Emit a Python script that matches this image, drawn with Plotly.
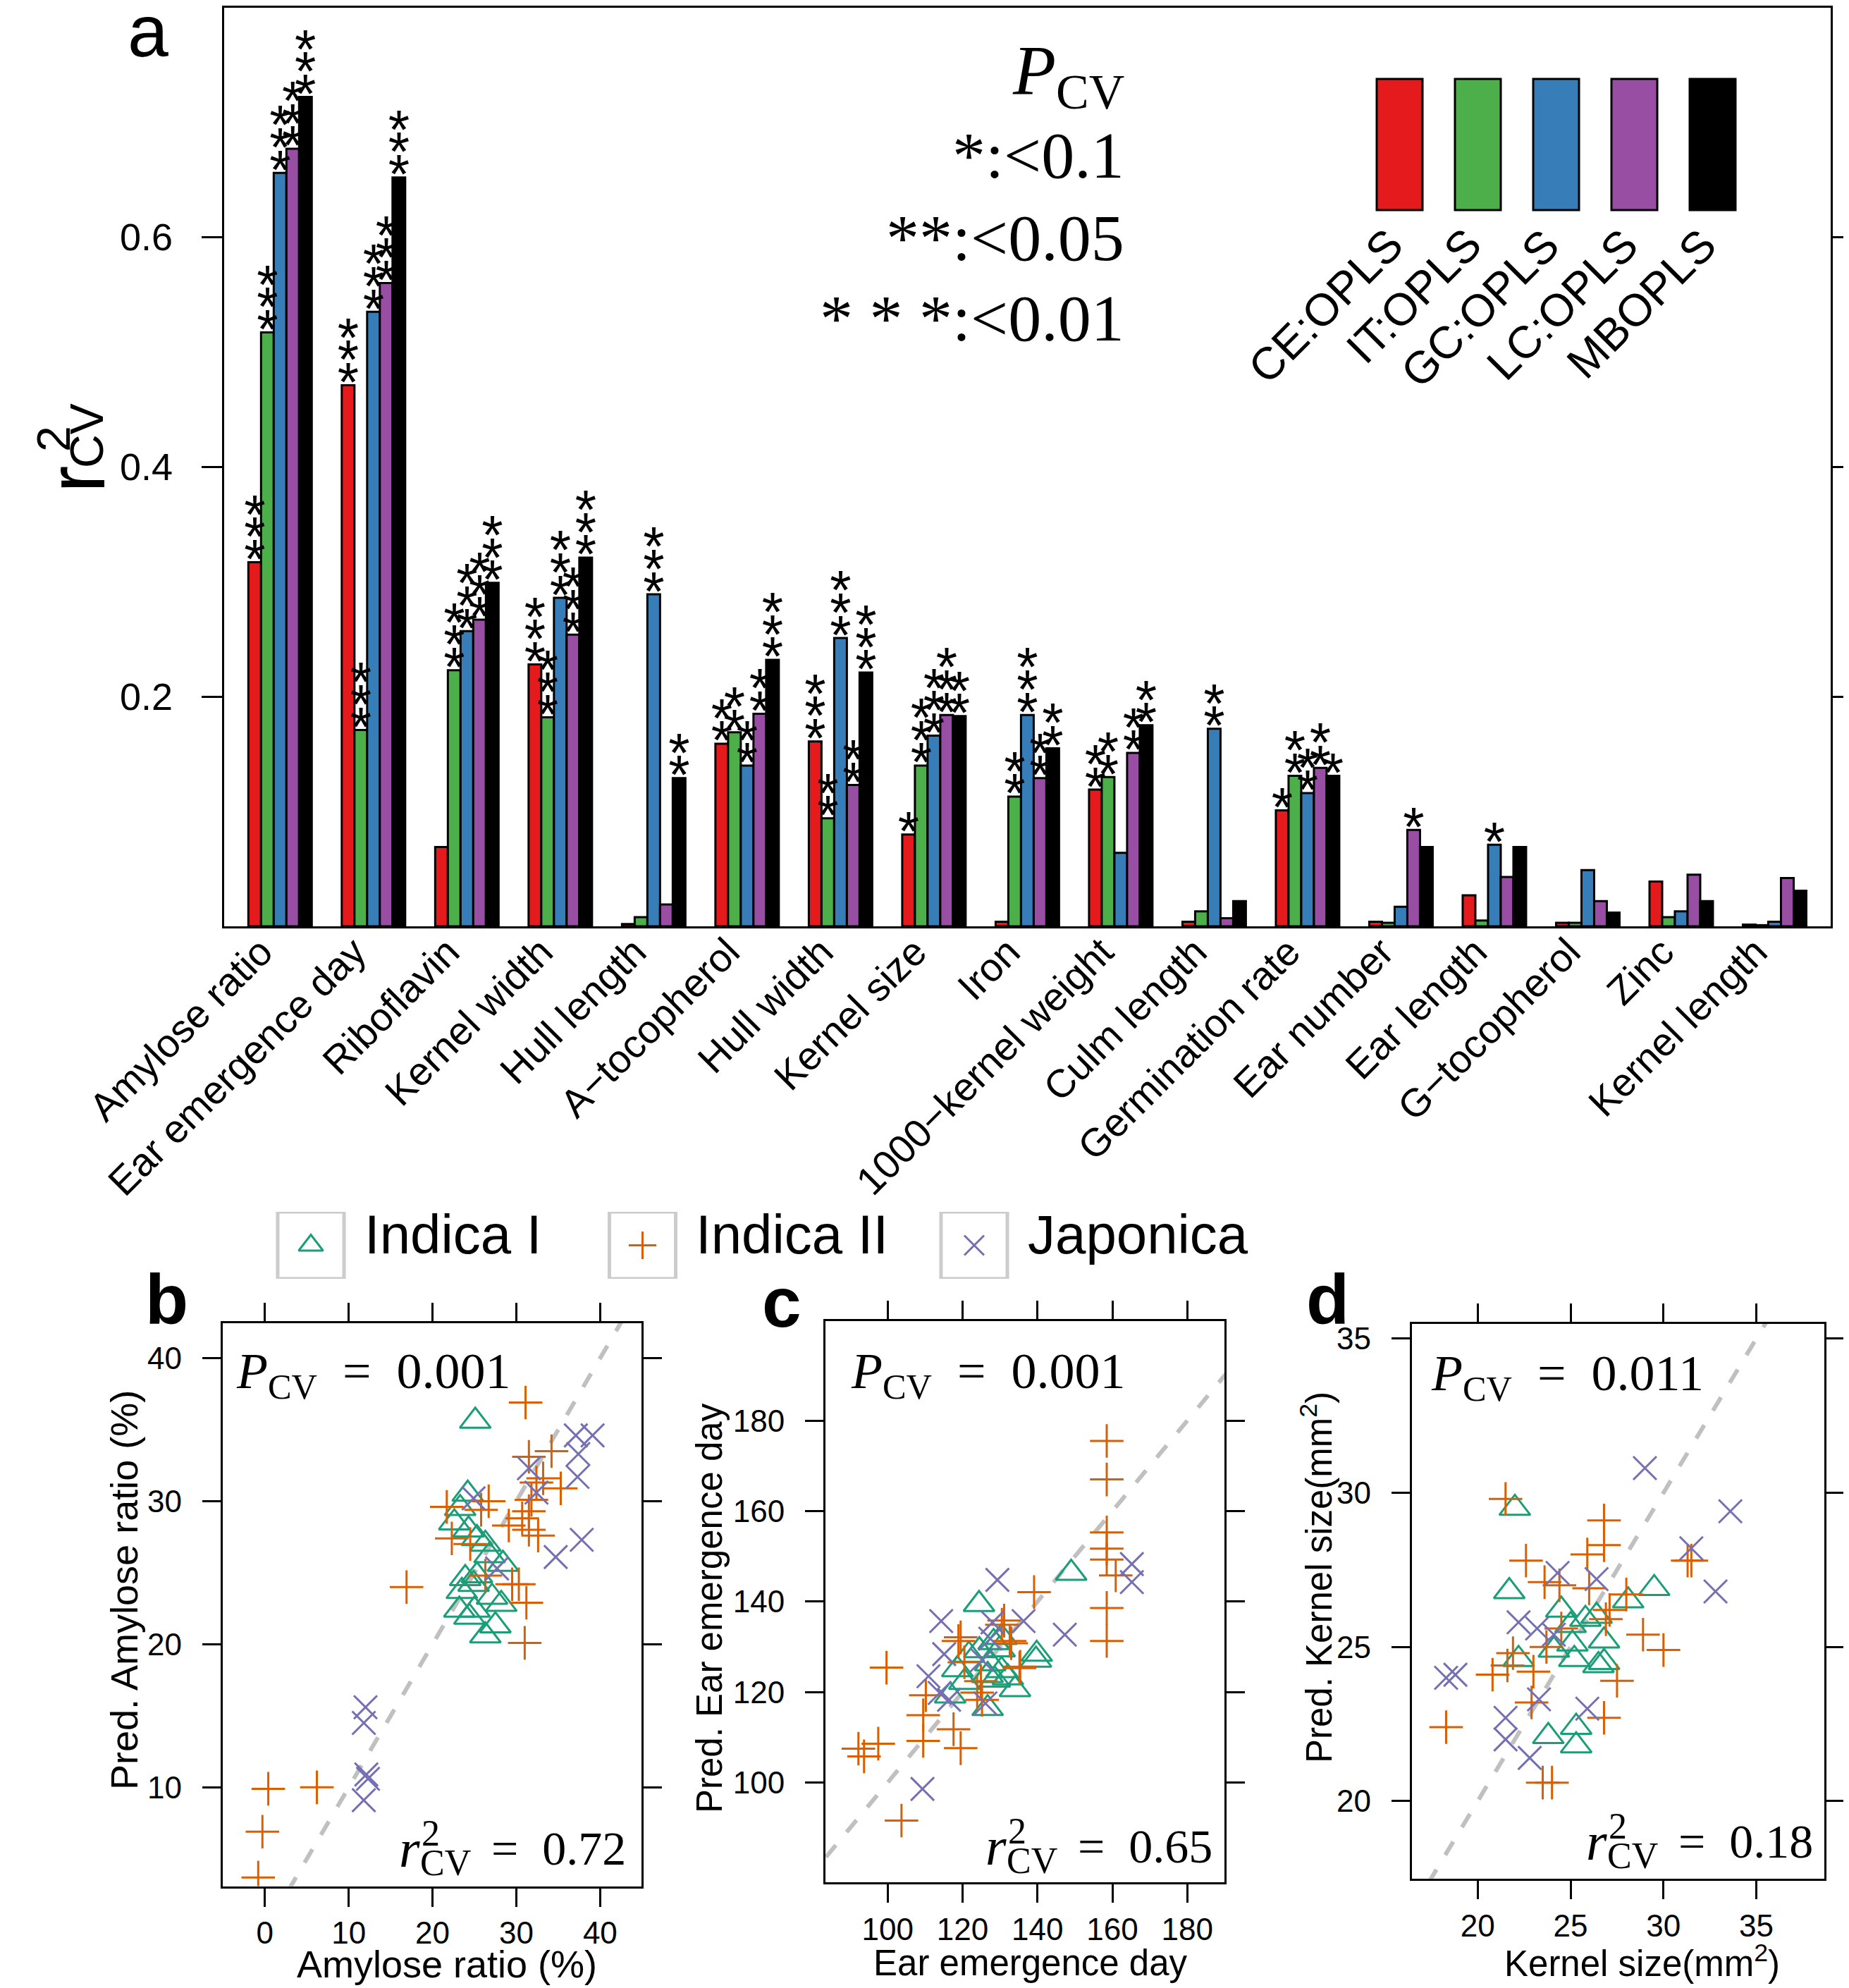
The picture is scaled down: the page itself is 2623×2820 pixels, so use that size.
import plotly.graph_objects as go

W, H = 2623, 2820

# ---------------- panel a data ----------------
categories = ["Amylose ratio", "Ear emergence day", "Riboflavin", "Kernel width", "Hull length",
              "A\u2212tocopherol", "Hull width", "Kernel size", "Iron", "1000\u2212kernel weight",
              "Culm length", "Germination rate", "Ear number", "Ear length", "G\u2212tocopherol",
              "Zinc", "Kernel length"]
series_names = ["CE:OPLS", "IT:OPLS", "GC:OPLS", "LC:OPLS", "MBOPLS"]
series_colors = ["#E41A1C", "#4DAF4A", "#377EB8", "#984EA3", "#000000"]

ce_opls = [0.317, 0.471, 0.069, 0.228, 0.002, 0.159, 0.161, 0.080, 0.004, 0.119, 0.004, 0.101, 0.004, 0.027, 0.003, 0.039, 0.0015]
it_opls = [0.517, 0.171, 0.223, 0.182, 0.008, 0.169, 0.094, 0.140, 0.113, 0.130, 0.013, 0.131, 0.003, 0.005, 0.003, 0.008, 0.001]
gc_opls = [0.656, 0.535, 0.257, 0.286, 0.289, 0.140, 0.251, 0.166, 0.184, 0.064, 0.172, 0.116, 0.017, 0.071, 0.049, 0.013, 0.004]
lc_opls = [0.677, 0.560, 0.267, 0.254, 0.019, 0.185, 0.123, 0.184, 0.129, 0.151, 0.007, 0.138, 0.084, 0.043, 0.022, 0.045, 0.042]
mbopls = [0.722, 0.652, 0.299, 0.321, 0.129, 0.232, 0.221, 0.183, 0.155, 0.175, 0.022, 0.131, 0.069, 0.069, 0.012, 0.022, 0.031]

ce_stars = [3, 3, 0, 3, 0, 2, 3, 1, 0, 2, 0, 1, 0, 0, 0, 0, 0]
it_stars = [3, 3, 3, 3, 0, 2, 2, 3, 2, 2, 0, 2, 0, 0, 0, 0, 0]
gc_stars = [3, 3, 3, 3, 3, 2, 3, 3, 3, 0, 2, 2, 0, 1, 0, 0, 0]
lc_stars = [3, 3, 3, 3, 0, 2, 2, 3, 2, 2, 0, 2, 1, 0, 0, 0, 0]
mb_stars = [3, 3, 3, 3, 2, 3, 3, 2, 2, 2, 0, 1, 0, 0, 0, 0, 0]

pcv_legend = ["*:&lt;0.1", "**:&lt;0.05", "* * *:&lt;0.01"]

# ---------------- scatter data ----------------
group_names = ["Indica I", "Indica II", "Japonica"]
group_colors = ["#1B9E77", "#D95F02", "#7570B3"]

# b: Amylose ratio
b_ind1_x = [25.1, 24.2, 23.3, 22.6, 24.3, 25.3, 26.3, 26.8, 28.4, 23.9, 25.3, 23.5, 24.9, 27.1, 28.2, 23.2, 24.4, 25.0, 27.5, 26.3]
b_ind1_y = [35.6, 30.5, 29.5, 28.5, 28.0, 27.4, 27.0, 26.2, 25.6, 24.6, 24.8, 23.7, 24.2, 23.3, 22.8, 22.4, 21.9, 22.4, 21.3, 20.6]
b_ind2_x = [31.1, 31.5, 34.2, 32.4, 33.2, 35.3, 31.8, 31.5, 30.7, 29.1, 31.5, 32.6, 26.7, 25.8, 21.7, 22.3, 24.5, 26.3, 29.5, 30.3, 31.2, 31.0, 16.9, 0.4, 6.2, -0.3, -0.8]
b_ind2_y = [36.9, 33.1, 33.5, 31.3, 31.6, 30.9, 30.1, 29.3, 28.8, 28.3, 28.0, 27.6, 30.0, 29.4, 29.6, 27.4, 27.0, 24.8, 24.2, 24.2, 22.9, 20.1, 24.0, 9.9, 10.0, 6.9, 3.7]
b_jap_x = [37.1, 39.1, 37.4, 37.3, 31.5, 32.4, 24.9, 34.7, 37.8, 27.7, 12.0, 11.8, 12.1, 12.3, 11.8]
b_jap_y = [34.6, 34.6, 33.3, 31.7, 32.3, 30.6, 30.2, 26.1, 27.3, 25.3, 15.6, 14.5, 10.9, 10.6, 9.1]

# c: Ear emergence day
c_ind1_x = [124.4, 149.0, 139.6, 116.7, 126.7, 134.0, 118.6, 121.7, 124.5, 128.3, 130.4, 127.4, 130.4, 128.6, 132.1, 120.5, 126.7, 129.9, 139.8]
c_ind1_y = [139.4, 146.3, 127.1, 119.2, 116.4, 120.6, 125.0, 128.2, 129.2, 131.0, 132.1, 126.3, 124.8, 122.7, 123.2, 122.2, 123.7, 129.4, 128.4]
c_ind2_x = [158.5, 158.5, 158.5, 158.5, 158.5, 160.9, 158.5, 158.5, 139.1, 99.7, 92.2, 93.7, 97.5, 103.7, 110.2, 109.5, 109.5, 117.6, 119.5, 118.9, 123.9, 132.6, 135.4, 131.1, 130.5, 133.0, 119.5, 124.9, 125.2, 135.2, 120.5]
c_ind2_y = [175.5, 167.0, 155.3, 151.7, 149.3, 145.8, 138.6, 131.3, 142.1, 125.4, 107.5, 105.8, 108.6, 91.6, 119.3, 114.9, 109.2, 111.8, 107.6, 131.3, 119.9, 131.3, 125.6, 135.8, 134.9, 130.8, 132.1, 122.4, 118.3, 125.3, 126.6]
c_jap_x = [129.3, 114.3, 136.3, 147.3, 115.1, 128.0, 127.4, 125.2, 110.9, 113.9, 116.4, 126.1, 109.3, 165.2, 165.2]
c_jap_y = [144.8, 135.7, 135.7, 132.7, 128.4, 135.4, 131.8, 127.1, 123.5, 119.8, 118.3, 117.5, 98.6, 148.3, 144.3]

# d: Kernel size
d_ind1_x = [21.7, 29.5, 28.1, 24.5, 26.4, 25.8, 25.0, 26.8, 24.1, 25.1, 22.2, 25.2, 26.8, 26.5, 23.8, 25.3, 25.3, 22.0]
d_ind1_y = [26.8, 26.9, 26.5, 26.2, 26.0, 25.9, 25.7, 25.2, 24.9, 25.1, 24.6, 24.6, 24.5, 24.4, 22.1, 22.4, 21.8, 29.5]
d_ind2_x = [26.8, 26.8, 25.9, 22.6, 23.6, 24.4, 26.0, 31.3, 31.5, 28.0, 27.1, 26.9, 28.9, 30.0, 24.5, 23.7, 23.0, 21.9, 20.8, 21.6, 22.9, 27.5, 26.8, 23.5, 24.0, 18.3, 21.5]
d_ind2_y = [29.1, 28.3, 28.0, 27.8, 27.1, 27.0, 26.9, 27.8, 27.8, 26.7, 26.2, 25.9, 25.4, 24.9, 25.6, 25.0, 24.2, 24.8, 24.1, 24.4, 23.2, 23.9, 22.7, 20.6, 20.6, 22.4, 29.8]
d_jap_x = [29.0, 33.6, 31.5, 32.8, 18.3, 18.8, 25.9, 21.5, 21.5, 22.8, 23.3, 22.2, 24.3, 26.4, 23.2, 24.1]
d_jap_y = [30.8, 29.4, 28.2, 26.8, 24.0, 24.1, 23.0, 22.7, 22.0, 21.4, 23.3, 25.8, 27.4, 27.2, 25.6, 25.4]

b_pcv, b_r2 = "0.001", "0.72"
c_pcv, c_r2 = "0.001", "0.65"
d_pcv, d_r2 = "0.011", "0.18"

b_xticks, b_yticks = [0, 10, 20, 30, 40], [10, 20, 30, 40]
c_xticks, c_yticks = [100, 120, 140, 160, 180], [100, 120, 140, 160, 180]
d_xticks, d_yticks = [20, 25, 30, 35], [20, 25, 30, 35]

# ---------------- helpers ----------------
def px(x):
    return x / W

def py(y):
    return 1 - y / H

SANS = "Liberation Sans"
SERIF = "Liberation Serif"

fig = go.Figure()

# ---------------- panel a: bars ----------------
BW = 0.1358
all_vals = [ce_opls, it_opls, gc_opls, lc_opls, mbopls]
all_stars = [ce_stars, it_stars, gc_stars, lc_stars, mb_stars]
A_TOP, A_BOT = 2.5, 1306.0
A_YMAX = 0.8
PX_PER_UNIT = (A_BOT - A_TOP) / A_YMAX
STAR_D0, STAR_SP = -3.0, 31.7

for j, (name, col, vals) in enumerate(zip(series_names, series_colors, all_vals)):
    xs = [i + (j - 2) * BW for i in range(len(categories))]
    fig.add_trace(go.Bar(x=xs, y=vals, width=BW, name=name,
                         marker=dict(color=col, line=dict(color="black", width=3)),
                         showlegend=False, xaxis="x", yaxis="y"))

sx, sy = [], []
for j, (vals, stars) in enumerate(zip(all_vals, all_stars)):
    for i, (v, n) in enumerate(zip(vals, stars)):
        for k in range(n):
            sx.append(i + (j - 2) * BW)
            sy.append(v + (STAR_D0 + k * STAR_SP) / PX_PER_UNIT)
fig.add_trace(go.Scatter(x=sx, y=sy, mode="text", text=["*"] * len(sx),
                         textposition="middle center",
                         textfont=dict(family=SANS, size=78, color="black"),
                         cliponaxis=False, showlegend=False, xaxis="x", yaxis="y"))

# ---------------- scatter panels ----------------
symbols = ["triangle-up-open", "cross-thin-open", "x-thin-open"]
sizes = [38, 34, 33]

panels = [
    dict(ax="2", data=[(b_ind1_x, b_ind1_y), (b_ind2_x, b_ind2_y), (b_jap_x, b_jap_y)],
         xr=[-5.05, 44.9], yr=[3.09, 42.44], xt=b_xticks, yt=b_yticks,
         dom_x=[307.8, 901.6], dom_y=[1869.0, 2667.6]),
    dict(ax="3", data=[(c_ind1_x, c_ind1_y), (c_ind2_x, c_ind2_y), (c_jap_x, c_jap_y)],
         xr=[83.4, 190.0], yr=[78.0, 202.0], xt=c_xticks, yt=c_yticks,
         dom_x=[1163.0, 1729.4], dom_y=[1866.0, 2661.8]),
    dict(ax="4", data=[(d_ind1_x, d_ind1_y), (d_ind2_x, d_ind2_y), (d_jap_x, d_jap_y)],
         xr=[16.45, 38.64], yr=[17.49, 35.48], xt=d_xticks, yt=d_yticks,
         dom_x=[1994.7, 2579.5], dom_y=[1869.8, 2656.7]),
]

layout_axes = {}
for p in panels:
    a = p["ax"]
    lo = min(p["xr"][0], p["yr"][0])
    hi = max(p["xr"][1], p["yr"][1])
    fig.add_trace(go.Scatter(x=[lo, hi], y=[lo, hi], mode="lines",
                             line=dict(color="#C0C0C0", width=6, dash="22px,24px"),
                             showlegend=False, xaxis="x" + a, yaxis="y" + a, hoverinfo="skip"))
    for g, (xs, ys) in enumerate(p["data"]):
        fig.add_trace(go.Scatter(x=xs, y=ys, mode="markers", name=group_names[g],
                                 marker=dict(symbol=symbols[g], size=sizes[g], color=group_colors[g],
                                             line=dict(color=group_colors[g], width=3)),
                                 showlegend=False, xaxis="x" + a, yaxis="y" + a))
    common = dict(showline=True, linecolor="black", linewidth=3, mirror="ticks",
                  ticks="outside", ticklen=26, tickwidth=3, tickcolor="black",
                  showgrid=False, zeroline=False, automargin=False,
                  tickfont=dict(family=SANS, size=44, color="black"))
    layout_axes["xaxis" + a] = dict(domain=[px(p["dom_x"][0]), px(p["dom_x"][1])], range=p["xr"],
                                    tickvals=p["xt"], anchor="y" + a, ticklabelstandoff=0, **common)
    layout_axes["yaxis" + a] = dict(domain=[py(p["dom_y"][1]), py(p["dom_y"][0])], range=p["yr"],
                                    tickvals=p["yt"], anchor="x" + a, ticklabelstandoff=20, **common)

# legend strip for groups
KEY_X0, KEY_STEP = 433.0, 470.5
for g in range(3):
    fig.add_trace(go.Scatter(x=[g], y=[0.5], mode="markers",
                             marker=dict(symbol=symbols[g], size=[30, 28, 28][g], color=group_colors[g],
                                         line=dict(color=group_colors[g], width=3)),
                             showlegend=False, xaxis="x5", yaxis="y5", hoverinfo="skip"))
layout_axes["xaxis5"] = dict(domain=[px(KEY_X0 - 0.5 * KEY_STEP), px(KEY_X0 + 2.5 * KEY_STEP)],
                             range=[-0.5, 2.5], visible=False, anchor="y5")
layout_axes["yaxis5"] = dict(domain=[py(1806), py(1711)], range=[0, 1], visible=False, anchor="x5")

shapes = []
annotations = []

def note(x, y, text, size, family=SANS, xanchor="center", yanchor="middle", angle=0, **kw):
    d = dict(xref="paper", yref="paper", x=px(x), y=py(y), text=text, showarrow=False,
             xanchor=xanchor, yanchor=yanchor, textangle=angle,
             font=dict(family=family, size=size, color="black"))
    d.update(kw)
    annotations.append(d)

for g in range(3):
    shapes.append(dict(type="rect", xref="x5", yref="y5", x0=g - 0.1, x1=g + 0.1, y0=0, y1=1,
                       line=dict(color="#CCCCCC", width=5), fillcolor="rgba(0,0,0,0)"))
    annotations.append(dict(xref="x5", yref="y5", x=g + 0.157, y=0.5, text=group_names[g],
                            showarrow=False, xanchor="left", yanchor="middle", yshift=16,
                            font=dict(family=SANS, size=78, color="black")))

# panel a legend rectangles + labels
for k, (name, col) in enumerate(zip(series_names, series_colors)):
    x0 = 1945 + k * 111
    shapes.append(dict(type="rect", xref="paper", yref="paper", x0=px(x0), x1=px(x0 + 65),
                       y0=py(290), y1=py(104), fillcolor=col, line=dict(color="black", width=3)))
    note(x0 + 32 + 22, 300, name, 64, xanchor="right", yanchor="top", angle=-45)

# P_CV significance legend
note(1589, 99, "<i>P</i><sub>CV</sub>", 100, family=SERIF, xanchor="right")
for t, yy in zip(pcv_legend, [212, 329, 443]):
    note(1589, yy, t, 94, family=SERIF, xanchor="right")

# panel a y title  r^2_CV
note(100, 672, "r", 115, angle=-90)
note(68, 615, "2", 66, angle=-90)
note(115, 610, "CV", 66, angle=-90)

# panel letters
note(202, 36, "a", 104)
for t, (xx, yy) in zip(["b", "c", "d"], [(229, 1835), (1101, 1839), (1875, 1835)]):
    note(xx, yy, "<b>" + t + "</b>", 100)

# scatter titles
x_titles = ["Amylose ratio (%)", "Ear emergence day", "Kernel size(mm<sup>2</sup>)"]
y_titles = ["Pred. Amylose ratio (%)", "Pred. Ear emergence day", "Pred. Kernel size(mm<sup>2</sup>)"]
title_sizes = [54, 51, 51]
for t, s, (xx, yy) in zip(x_titles, title_sizes, [(626, 2778), (1454, 2776), (2321, 2774)]):
    note(xx, yy, t, s)
for t, s, (xx, yy) in zip(y_titles, title_sizes, [(168, 2247), (998, 2273), (1860, 2229)]):
    note(xx, yy, t, s, angle=-90)

# P_CV and r2 inside scatters
for pcv, r2, (pxl, pyc), (rr, ryc) in zip([b_pcv, c_pcv, d_pcv], [b_r2, c_r2, d_r2],
                                          [(325, 1942), (1197, 1942), (2020, 1945)],
                                          [(882, 2614), (1714, 2611), (2566, 2604)]):
    note(pxl, pyc, "<i>P</i><sub>CV</sub>  =  " + pcv, 72, family=SERIF, xanchor="left")
    note(rr, ryc, "=&nbsp;&nbsp;" + r2, 68, family=SERIF, xanchor="right")
    note(rr - 220, ryc + 20, "CV", 52, family=SERIF, xanchor="right")
    note(rr - 294, ryc - 22, "2", 52, family=SERIF, xanchor="left")
    note(rr - 292, ryc, "<i>r</i>", 76, family=SERIF, xanchor="right")

fig.update_layout(
    width=W, height=H,
    margin=dict(l=0, r=0, t=0, b=0),
    paper_bgcolor="white", plot_bgcolor="white",
    barmode="overlay",
    showlegend=False,
    xaxis=dict(domain=[px(309.8), px(2589.0)], range=[-0.6, 16.6], tickvals=list(range(len(categories))),
               ticktext=categories, tickangle=-45, ticks="", showline=True, linecolor="black",
               linewidth=3, mirror=True, showgrid=False, zeroline=False, automargin=False,
               ticklabelstandoff=-22, ticklabelshift=-27,
               tickfont=dict(family=SANS, size=56, color="black"), anchor="y"),
    yaxis=dict(domain=[py(A_BOT), py(A_TOP)], range=[0, A_YMAX], tickvals=[0.2, 0.4, 0.6],
               ticktext=["0.2", "0.4", "0.6"], ticks="outside", ticklen=29, tickwidth=3,
               tickcolor="black", showline=True, linecolor="black", linewidth=3, mirror="ticks",
               showgrid=False, zeroline=False, automargin=False, ticklabelstandoff=30,
               tickfont=dict(family=SANS, size=54, color="black"), anchor="x"),
    shapes=shapes,
    annotations=annotations,
    **layout_axes,
)

fig.write_html("out.html")
